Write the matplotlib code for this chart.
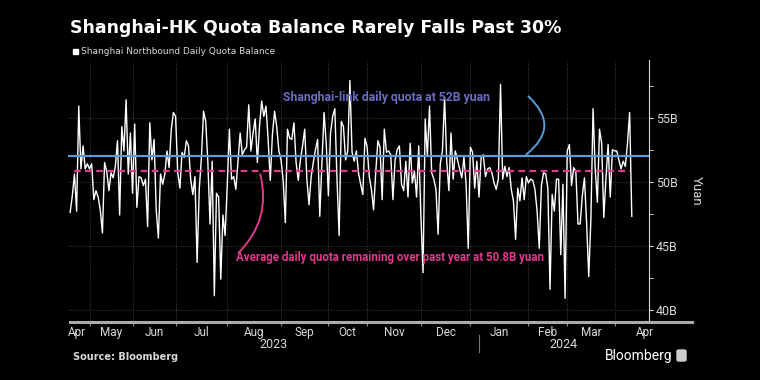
import numpy as np
import matplotlib.pyplot as plt
from matplotlib.lines import Line2D
from matplotlib.patches import FancyBboxPatch

# daily quota balance, billion yuan (trading days Apr 2023 - Apr 2024)
balance = [
    47.6, 48.9, 50.6, 47.7, 55.9, 51.0, 52.8, 51.0, 51.4, 51.0,
    51.4, 48.6, 49.3, 48.8, 47.8, 46.0, 51.5, 50.8, 49.3, 50.7,
    50.3, 51.2, 53.2, 47.4, 54.3, 52.4, 56.4, 50.6, 53.8, 49.1,
    54.5, 48.0, 50.4, 50.3, 49.7, 50.2, 46.5, 54.6, 51.7, 53.3,
    47.8, 45.6, 50.6, 49.8, 50.6, 52.4, 51.1, 54.1, 55.4,
    55.1, 50.7, 49.5, 52.3, 51.9, 53.2, 52.8, 50.2, 49.0, 50.4,
    43.7, 49.4, 51.9, 55.5, 54.7, 51.5, 46.7, 51.6, 41.1, 49.1,
    48.8, 42.4, 47.4, 45.8, 49.7, 54.1, 50.2, 50.4, 49.4, 51.6,
    53.8, 52.1, 52.5, 52.7, 56.0, 52.4, 53.8, 54.9, 51.5, 54.3,
    56.3, 55.1, 55.9, 53.3, 50.1, 53.7, 55.5, 54.3, 52.4, 51.7,
    50.1, 46.8, 54.1, 53.4,
    53.3, 54.6, 51.5, 50.1, 51.7, 52.8, 54.1, 50.2, 48.2, 50.4,
    51.5, 52.5, 53.3, 47.3, 51.5, 55.4, 53.0, 48.9, 53.8, 55.1,
    55.7, 50.2, 45.8, 54.7, 54.3, 51.7, 52.4, 57.9, 52.3, 51.6,
    52.4, 50.7, 49.8, 49.0, 53.4, 52.7, 50.4, 49.4, 47.8, 50.7,
    53.2, 52.7, 48.6, 54.1, 52.3, 52.4, 52.1, 48.6, 51.7, 52.5,
    52.8, 49.8, 49.3, 51.6, 48.8,
    53.0, 49.9, 50.8, 48.8, 52.8, 47.3, 42.9, 54.9, 52.0, 55.9,
    50.7, 50.2, 49.4, 45.9, 51.4, 52.4, 56.6, 51.6, 49.3, 53.8,
    50.2, 52.4, 51.7, 51.0, 50.3, 51.9, 49.8, 44.8, 52.7, 52.3,
    49.5, 51.6, 48.8, 51.9, 52.1, 50.4, 51.0, 51.1, 50.7, 49.9,
    49.4, 50.2, 57.6, 50.2, 51.2, 50.4, 51.1, 49.4, 48.5, 45.5,
    49.5, 48.5, 50.3, 48.6, 50.4, 49.9, 50.2, 50.1, 49.4,
    47.7, 44.8, 49.7, 50.7, 50.6, 49.5, 41.6, 49.0, 47.7, 50.2,
    50.2, 44.3, 49.8, 40.9, 52.4, 52.9, 49.7, 51.1, 50.8, 46.7,
    46.7, 48.9, 50.3, 46.8, 42.6, 47.1, 55.7, 51.0, 48.4, 54.1,
    53.0, 47.2, 50.3, 52.9, 48.8, 52.5, 52.4, 52.4, 51.7, 51.0,
    51.6, 51.2, 53.0, 55.4, 47.3,
]

quota = 52.0
avg_remaining = 50.8

# month boundaries as trading-day index
month_edges = [-3, 9, 29, 49, 73, 98, 120, 138, 163, 186, 213, 231, 253, 281]
month_labels = ["Apr", "May", "Jun", "Jul", "Aug", "Sep", "Oct", "Nov",
                "Dec", "Jan", "Feb", "Mar", "Apr"]
year_labels = ["2023", "2024"]
y_ticks = [40, 45, 50, 55]

bg = "black"
fg = "#d9d9d9"
blue = "#5b9bd5"
pink = "#e03a8e"
purple = "#6b6bc4"
narrow = ["Roboto", "DejaVu Sans"]

fig = plt.figure(figsize=(7.6, 3.8), dpi=100, facecolor=bg)
ax = fig.add_axes([68 / 760, 1 - 322 / 380, 581 / 760, 262 / 380], facecolor=bg)

x = np.arange(len(balance))
ax.plot(x, balance, color="white", lw=1.0, zorder=3)
ax.axhline(quota, color=blue, lw=1.6, zorder=4)
ax.plot([2, 260], [avg_remaining, avg_remaining], color=pink, lw=1.6,
        ls=(0, (3, 2)), zorder=4)

ax.set_xlim(-1, 269)
ax.set_ylim(39.05, 59.5)

# grid
ticks_x = month_edges[1:-1]
for t in ticks_x:
    ax.axvline(t, color="#555555", lw=0.6, ls=(0, (1, 2)), zorder=1)
for t in y_ticks:
    ax.axhline(t, color="#555555", lw=0.6, ls=(0, (1, 2)), zorder=1)

ax.yaxis.tick_right()
ax.set_yticks(y_ticks)
ax.set_yticklabels([f"{v}B" for v in y_ticks], color=fg, fontsize=9,
                   family=narrow)
ax.set_yticks([42.5, 47.5, 52.5, 57.5], minor=True)
ax.tick_params(axis="y", which="both", direction="out", length=3,
               color=fg, pad=2)
ax.yaxis.set_label_position("right")
ax.set_ylabel("Yuan", color=fg, fontsize=9.5, rotation=270, labelpad=18,
              family=narrow)

mids = [(month_edges[i] + month_edges[i + 1]) / 2 for i in range(len(month_labels))]
ax.set_xticks(ticks_x)
ax.set_xticklabels([])
ax.set_xticks(mids, minor=True)
ax.set_xticklabels(month_labels, minor=True, color=fg, fontsize=8.5,
                   family=narrow)
ax.tick_params(axis="x", which="major", direction="out", length=3, color="#888888")
ax.tick_params(axis="x", which="minor", length=0, pad=3)

for s in ["top", "left", "bottom"]:
    ax.spines[s].set_visible(False)
ax.spines["right"].set_color(fg)
ax.spines["right"].set_linewidth(0.8)

# bottom axis bar
fig.add_artist(Line2D([70 / 760, 692 / 760], [1 - 322 / 380] * 2,
                      color="#aaaaaa", lw=2.2))

# year labels
fig.text(274 / 760, 1 - 344 / 380, year_labels[0], color=fg, fontsize=9,
         ha="center", va="center", family=narrow)
fig.text(563 / 760, 1 - 344 / 380, year_labels[1], color=fg, fontsize=9,
         ha="center", va="center", family=narrow)
fig.add_artist(Line2D([479 / 760] * 2, [1 - 335 / 380, 1 - 352 / 380],
                      color="#777777", lw=0.8))

# annotations
ax.text(99, 56.6, "Shanghai-link daily quota at 52B yuan", color=purple,
        fontsize=8.8, fontweight="bold", va="center", ha="left", family=narrow)
ax.annotate("", xy=(211, quota), xytext=(212, 56.8),
            arrowprops=dict(arrowstyle="-", color=blue, lw=1.4,
                            connectionstyle="arc3,rad=-0.62"))
ax.text(77, 44.05, "Average daily quota remaining over past year at 50.8B yuan",
        color=pink, fontsize=8.3, fontweight="bold", va="center", ha="left",
        family=narrow)
ax.annotate("", xy=(88, avg_remaining), xytext=(77.3, 44.3),
            arrowprops=dict(arrowstyle="-", color=pink, lw=1.4,
                            connectionstyle="arc3,rad=0.3"))

# title, legend, footer
fig.text(70 / 760, 1 - 28 / 380, "Shanghai-HK Quota Balance Rarely Falls Past 30%",
         color="white", fontsize=12.5, fontweight="bold", va="center", ha="left")
fig.add_artist(FancyBboxPatch((73 / 760, 1 - 54 / 380), 5 / 760, 5 / 380,
                              boxstyle="square,pad=0", color="white",
                              transform=fig.transFigure))
fig.text(81 / 760, 1 - 51 / 380, "Shanghai Northbound Daily Quota Balance",
         color=fg, fontsize=6.5, va="center", ha="left")
fig.text(73 / 760, 1 - 357 / 380, "Source: Bloomberg", color=fg, fontsize=7,
         fontweight="bold", va="center", ha="left")
fig.text(673 / 760, 1 - 356 / 380, "Bloomberg", color="white", fontsize=10,
         va="center", ha="right", family=narrow)
fig.add_artist(FancyBboxPatch((677 / 760, 1 - 361 / 380), 9 / 760, 11 / 380,
                              boxstyle="round,pad=0,rounding_size=0.003",
                              color="#cccccc", transform=fig.transFigure))

fig.savefig("out.png", dpi=100, facecolor=bg)
